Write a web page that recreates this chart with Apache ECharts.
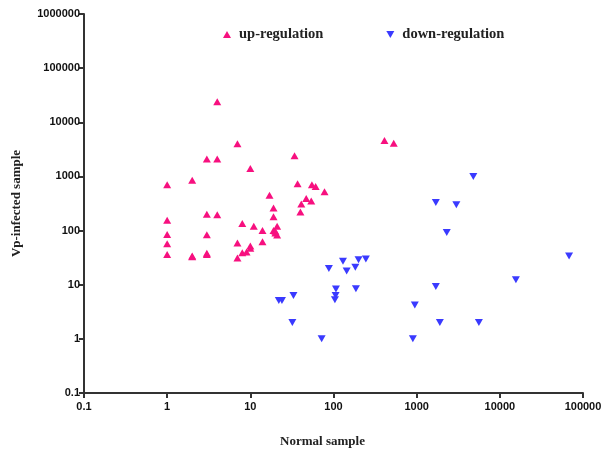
<!DOCTYPE html>
<html>
<head>
<meta charset="utf-8">
<script src="https://cdn.jsdelivr.net/npm/echarts@6/dist/echarts.min.js"></script>
<style>
html,body{margin:0;padding:0;background:#ffffff;}
#chart{width:602px;height:450px;}
</style>
</head>
<body>
<div id="chart"></div>
<script>
var seriesNames = ['up-regulation', 'down-regulation'];
var xTickLabels = ['0.1', '1', '10', '100', '1000', '10000', '100000'];
var yTickLabels = ['0.1', '1', '10', '100', '1000', '10000', '100000', '1000000'];

var upX = [4, 7, 3, 4, 10, 34, 2, 1, 37, 55, 61, 78, 17, 47, 54, 41, 40, 19, 19, 3, 4, 1, 8, 11, 14, 21, 19, 20, 21, 20, 1, 3, 1, 14, 7, 10, 10, 8, 9, 1, 2, 2, 3, 3, 7, 410, 530];
var upY = [24000, 4000, 2100, 2100, 1400, 2400, 850, 700, 730, 700, 650, 520, 450, 390, 350, 310, 220, 260, 180, 200, 195, 155, 135, 120, 100, 120, 100, 90, 83, 97, 85, 84, 57, 62, 59, 52, 47, 39, 40, 36, 34, 33, 38, 36, 31, 4600, 4100];

var downX = [4800, 1700, 3000, 2300, 88, 130, 144, 183, 200, 245, 107, 106, 104, 186, 33, 22, 24, 32, 72, 1700, 950, 1900, 900, 5600, 68000, 15600];
var downY = [1000, 330, 300, 92, 20, 27, 18, 21, 29, 30, 8.3, 6.3, 5.3, 8.4, 6.3, 5.1, 5.1, 2, 1, 9.3, 4.2, 2, 1, 2, 34, 12.4];

function pairs(xs, ys) {
  var out = [];
  for (var i = 0; i < xs.length; i++) out.push([xs[i], ys[i]]);
  return out;
}
function labelFor(arr, base) {
  return function (v) {
    var idx = Math.round(Math.log10(v)) - base;
    return arr[idx] !== undefined ? arr[idx] : '';
  };
}

var chart = echarts.init(document.getElementById('chart'));
var axisCommon = {
  type: 'log',
  logBase: 10,
  axisLine: {show: true, onZero: false, lineStyle: {color: '#333333', width: 2}},
  axisTick: {show: true, inside: false, length: 5, lineStyle: {color: '#333333', width: 2}},
  minorTick: {show: false},
  splitLine: {show: false},
  axisLabel: {color: '#111111', fontFamily: 'Liberation Sans, Arial, sans-serif', fontWeight: 'bold', fontSize: 11}
};
var downPath = 'path://M0,0 L10,0 L5,9 Z';
var upPath = 'path://M5,0 L10,9 L0,9 Z';

chart.setOption({
  animation: false,
  backgroundColor: '#ffffff',
  grid: {left: 84, right: 19, top: 14, bottom: 57, containLabel: false, outerBoundsMode: 'none'},
  legend: {
    top: 22,
    left: 218,
    itemWidth: 8,
    itemHeight: 8,
    itemGap: 63,
    textStyle: {fontFamily: 'Liberation Serif, Times New Roman, serif', fontWeight: 'bold', fontSize: 14.5, color: '#222222', padding: [0, 0, 0, 3]},
    data: [
      {name: seriesNames[0], icon: upPath},
      {name: seriesNames[1], icon: downPath}
    ]
  },
  xAxis: Object.assign({}, axisCommon, {
    min: 0.1, max: 100000,
    name: 'Normal sample',
    nameLocation: 'middle',
    nameGap: 42,
    nameTextStyle: {fontFamily: 'Liberation Serif, Times New Roman, serif', fontWeight: 'bold', fontSize: 13, color: '#222222', padding: [0, 22, 0, 0]},
    axisLabel: Object.assign({}, axisCommon.axisLabel, {margin: 8, formatter: labelFor(xTickLabels, -1)})
  }),
  yAxis: Object.assign({}, axisCommon, {
    min: 0.1, max: 1000000,
    name: 'Vp-infected sample',
    nameLocation: 'middle',
    nameGap: 61,
    nameTextStyle: {fontFamily: 'Liberation Serif, Times New Roman, serif', fontWeight: 'bold', fontSize: 13, color: '#222222'},
    axisLabel: Object.assign({}, axisCommon.axisLabel, {margin: 4, formatter: labelFor(yTickLabels, -1)})
  }),
  series: [
    {
      name: seriesNames[0],
      type: 'scatter',
      symbol: upPath,
      symbolSize: [8, 7],
      itemStyle: {color: '#f7107f', opacity: 1},
      data: pairs(upX, upY)
    },
    {
      name: seriesNames[1],
      type: 'scatter',
      symbol: downPath,
      symbolSize: [8, 7],
      itemStyle: {color: '#3a3aff', opacity: 1},
      data: pairs(downX, downY)
    }
  ]
});
</script>
</body>
</html>
